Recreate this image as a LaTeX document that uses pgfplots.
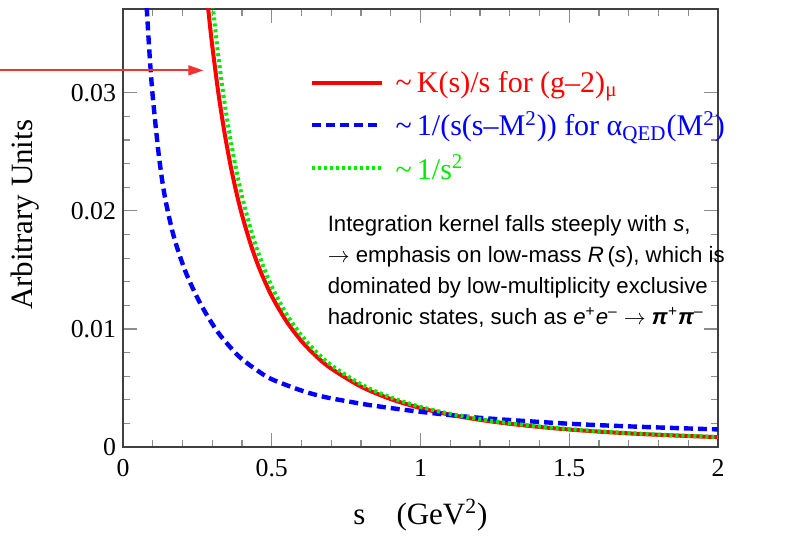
\documentclass[border=0pt]{standalone}
\usepackage{pgfplots}
\pgfplotsset{compat=1.18}
\usepackage{fontspec}
\setmainfont{Liberation Serif}
\setsansfont{Liberation Sans}
\usetikzlibrary{arrows.meta}

\definecolor{cRed}{RGB}{255,0,0}
\definecolor{cBlue}{RGB}{0,0,255}
\definecolor{cGreen}{RGB}{0,235,0}
\definecolor{cArrow}{RGB}{240,50,50}

\begin{document}
\begin{tikzpicture}
\begin{axis}[
  scale only axis, width=297.5pt, height=219pt,
  xmin=0, xmax=2, ymin=0, ymax=0.0371,
  clip mode=individual,
  xtick={0,0.5,1,1.5,2}, minor x tick num=4,
  ytick={0,0.01,0.02,0.03}, yticklabels={0,0.01,0.02,0.03},
  scaled y ticks=false, minor y tick num=4,
  tick align=inside, major tick length=7pt, minor tick length=3.5pt,
  tick style={black!45, line width=0.6pt},
  axis line style={black!75, line width=1.2pt},
  /pgf/number format/assume math mode=true,
  tick label style={font=\fontsize{12.9}{14}\selectfont},
  xticklabel style={yshift=-2.5pt},
  xlabel={s\quad (GeV\textsuperscript{2})},
  ylabel={Arbitrary Units},
  label style={font=\fontsize{15.5}{18}\selectfont},
  xlabel style={at={(axis description cs:0.5,-0.155)}, anchor=center},
  ylabel style={at={(axis description cs:-0.165,0.53)}, anchor=center},
  legend style={at={(axis cs:0.625,0.0322)}, anchor=north west, draw=none, fill=none,
    font=\fontsize{15}{18}\selectfont, row sep=4pt, inner sep=0pt},
  legend cell align=left,
  legend image code/.code={\draw[#1] (0pt,0pt) -- (35pt,0pt); \path (39pt,0pt);},
]
% ~ K(s)/s
\addplot[cRed, line width=2pt, smooth] coordinates {
(0.27,0.04146) (0.28,0.03872) (0.29,0.03625) (0.30,0.0340) (0.32,0.03009)
(0.34,0.02682) (0.36,0.02404) (0.38,0.02169) (0.40,0.01966) (0.43,0.01711)
(0.46,0.01502) (0.50,0.01278) (0.55,0.01063) (0.60,0.008972) (0.65,0.007676)
(0.70,0.006642) (0.80,0.005114) (0.90,0.004058) (1.00,0.003298) (1.10,0.002733)
(1.20,0.002302) (1.30,0.001966) (1.40,0.001698) (1.50,0.001481) (1.60,0.001303)
(1.70,0.001155) (1.80,0.001032) (1.90,0.000927) (2.00,0.000837)};
\addlegendentry{\textcolor{cRed}{\textasciitilde\,K(s)/s for (g–2)\textsubscript{μ}}}
% ~ 1/(s(s-M^2))
\addplot[cBlue, line width=2.2pt, dash pattern=on 4.5pt off 2.5pt, smooth] coordinates {
(0.075,0.0396) (0.08,0.0371) (0.09,0.0330) (0.10,0.0297) (0.12,0.0248)
(0.14,0.0213) (0.17,0.0179) (0.21,0.01486) (0.26,0.01215) (0.32,0.00969)
(0.39,0.00767) (0.45,0.00651) (0.50,0.00574) (0.60,0.00478) (0.67,0.00428)
(0.75,0.00389) (0.84,0.00351) (1.00,0.00298) (1.20,0.00247) (1.50,0.00197)
(1.75,0.00170) (2.00,0.00149)};
\addlegendentry{\textcolor{cBlue}{\textasciitilde\,1/(s(s–M\textsuperscript{2})) for α\textsubscript{QED}(M\textsuperscript{2})}}
% ~ 1/s^2
\addplot[cGreen, line width=2pt, dash pattern=on 1.5pt off 1.5pt, smooth] coordinates {
(0.29,0.04043) (0.30,0.03778) (0.32,0.03320) (0.34,0.02941) (0.36,0.02623)
(0.38,0.02355) (0.40,0.02125) (0.43,0.01839) (0.46,0.01607) (0.50,0.0136)
(0.55,0.01124) (0.60,0.009444) (0.65,0.008047) (0.70,0.006939) (0.80,0.005313)
(0.90,0.004198) (1.00,0.0034) (1.10,0.00281) (1.20,0.002361) (1.30,0.002012)
(1.40,0.001735) (1.50,0.001511) (1.60,0.001328) (1.70,0.001176) (1.80,0.001049)
(1.90,0.000942) (2.00,0.00085)};
\addlegendentry{\textcolor{cGreen}{\textasciitilde\,1/s\textsuperscript{2}}}

\draw[draw=cArrow, fill=cArrow, line width=0.9pt, -{Triangle[length=7.5pt,width=5pt]}]
  (axis cs:-0.413,0.0319) -- (axis cs:0.27,0.0319);

\node[anchor=north west, align=left, inner sep=0pt,
      font=\sffamily\fontsize{11.1}{15.5}\selectfont]
  at (axis cs:0.687,0.01966)
  {Integration kernel falls steeply with \textit{s},\\
   $\rightarrow$ emphasis on low-mass \textit{R}\,(\textit{s}), which is\\
   dominated by low-multiplicity exclusive\\
   hadronic states, such as \textit{e}\textsuperscript{+}\textit{e}\textsuperscript{–} $\rightarrow$ \textbf{\textit{π}}\textsuperscript{+}\textbf{\textit{π}}\textsuperscript{–}};
\end{axis}
\pgfresetboundingbox
\path (-61.5pt,-45pt) rectangle (344pt,223.5pt);
\end{tikzpicture}
\end{document}
